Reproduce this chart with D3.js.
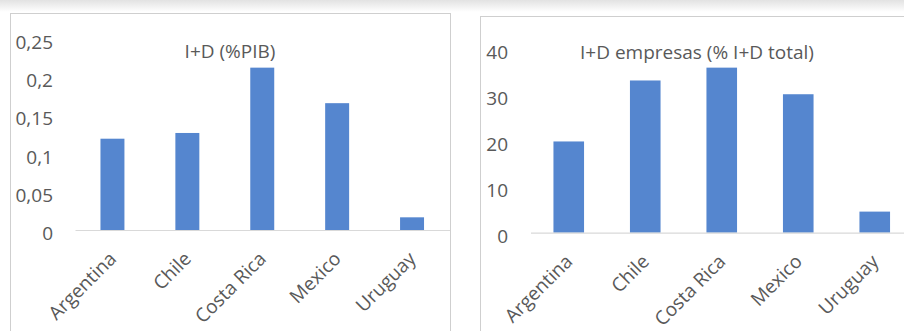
<!DOCTYPE html>
<html>
<head>
<meta charset="utf-8">
<script src="https://cdn.jsdelivr.net/npm/d3@7"></script>
<style>
  body { margin: 0; background: #fff; }
  svg { display: block; font-family: "Open Sans", "Noto Sans", sans-serif; }
</style>
</head>
<body>
<svg id="chart" width="904" height="331"></svg>
<script>
// DATA
const countries = ["Argentina", "Chile", "Costa Rica", "Mexico", "Uruguay"];
const idPib = [0.1195, 0.127, 0.2125, 0.166, 0.0166];
const idEmpresas = [19.9, 33.2, 36.0, 30.2, 4.6];
const pibTicks = [0, 0.05, 0.1, 0.15, 0.2, 0.25];
const empresasTicks = [0, 10, 20, 30, 40];
const titles = ["I+D (%PIB)", "I+D empresas (% I+D total)"];

const svg = d3.select("#chart");
const barColor = "#5586cf",
  textColor = "#595959",
  axisColor = "#d9d9d9";

// top shadow
const defs = svg.append("defs");
const grad = defs
  .append("linearGradient")
  .attr("id", "shadow")
  .attr("x1", 0).attr("y1", 0)
  .attr("x2", 0).attr("y2", 1);
grad.append("stop").attr("offset", "0%").attr("stop-color", "#e2e2e2");
grad.append("stop").attr("offset", "100%").attr("stop-color", "#ffffff");
svg.append("rect").attr("width", 904).attr("height", 12).attr("fill", "url(#shadow)");

// panel frames
svg.append("rect")
  .attr("x", 10.5).attr("y", 13.5)
  .attr("width", 440).attr("height", 400)
  .attr("fill", "#fff").attr("stroke", "#cfcfcf");
svg.append("rect")
  .attr("x", 480.5).attr("y", 16.5)
  .attr("width", 500).attr("height", 400)
  .attr("fill", "#fff").attr("stroke", "#cfcfcf");

function drawPanel(opts) {
  const { values, ticks, title, fmt, xRange, yRange, pad, tickX, titlePos } = opts;
  const g = svg.append("g");

  const x = d3.scaleBand()
    .domain(countries)
    .range(xRange)
    .paddingInner(pad)
    .paddingOuter(pad / 2);

  const y = d3.scaleLinear()
    .domain([ticks[0], ticks[ticks.length - 1]])
    .range(yRange);

  // y axis labels only
  const gy = g.append("g")
    .attr("transform", `translate(${tickX},0)`)
    .call(d3.axisLeft(y).tickValues(ticks).tickSize(0).tickPadding(0).tickFormat(fmt));
  gy.select(".domain").remove();
  gy.selectAll("text")
    .attr("dy", "0.5em")
    .attr("fill", textColor)
    .style("font-size", "19px")
    .style("font-family", "'Open Sans', sans-serif");

  // bars
  g.selectAll("rect.bar")
    .data(countries)
    .join("rect")
    .attr("class", "bar")
    .attr("x", (d) => x(d))
    .attr("width", x.bandwidth())
    .attr("y", (d, i) => y(values[i]))
    .attr("height", (d, i) => y(0) - y(values[i]))
    .attr("fill", barColor);

  // x axis
  const gx = g.append("g")
    .attr("transform", `translate(0,${y(0)})`)
    .call(d3.axisBottom(x).tickSize(0).tickSizeOuter(0));
  gx.select(".domain").attr("stroke", axisColor).attr("stroke-width", 1.2);
  gx.selectAll("text")
    .attr("y", null)
    .attr("dy", null)
    .attr("transform", "translate(5,30) rotate(-45)")
    .attr("text-anchor", "end")
    .attr("fill", textColor)
    .style("font-size", "19px")
    .style("font-family", "'Open Sans', sans-serif");

  // title
  g.append("text")
    .attr("x", titlePos[0])
    .attr("y", titlePos[1])
    .attr("text-anchor", "middle")
    .attr("fill", textColor)
    .style("font-size", "19px")
    .text(title);
}

drawPanel({
  values: idPib,
  ticks: pibTicks,
  title: titles[0],
  fmt: (d) => String(d).replace(".", ","),
  xRange: [75, 449.5],
  yRange: [230, 39],
  pad: 0.68,
  tickX: 53,
  titlePos: [230, 58],
});

drawPanel({
  values: idEmpresas,
  ticks: empresasTicks,
  title: titles[1],
  fmt: (d) => String(d),
  xRange: [530.5, 913],
  yRange: [232.7, 49.3],
  pad: 0.6,
  tickX: 508,
  titlePos: [697, 59],
});
</script>
</body>
</html>
